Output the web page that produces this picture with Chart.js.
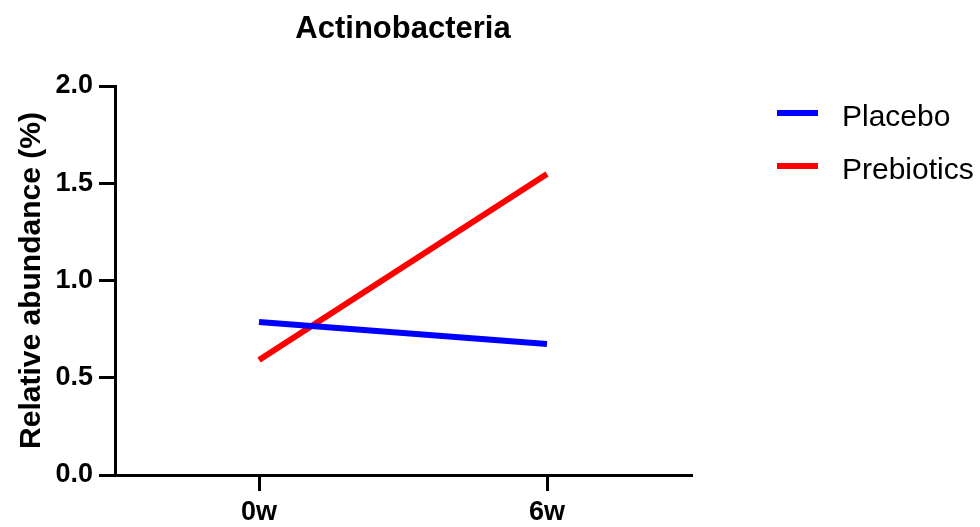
<!DOCTYPE html>
<html>
<head>
<meta charset="utf-8">
<script src="https://cdn.jsdelivr.net/npm/chart.js@4/dist/chart.umd.min.js"></script>
<style>
  html, body { margin: 0; padding: 0; background: #fff; }
  canvas { display: block; }
</style>
</head>
<body>
<canvas id="myChart" width="980" height="527"></canvas>
<script>
var semanas = ['0w', '6w'];
var placebo = [0.787, 0.674];
var prebioticos = [0.591, 1.548];
var ticks_y = [0, 0.5, 1.0, 1.5, 2.0];
var titulo = 'Actinobacteria';
var titulo_y = 'Relative abundance (%)';

var fonte = "'Liberation Sans', Arial, sans-serif";

// titulo, titulo do eixo y e legenda desenhados a mao
var textos = {
    id: 'textos',
    afterDraw: function (chart) {
        let c = chart.ctx;
        let area = chart.chartArea;
        c.save();
        c.fillStyle = '#000';
        c.textBaseline = 'alphabetic';

        c.font = 'bold 31px ' + fonte;
        c.textAlign = 'center';
        c.fillText(titulo, (area.left + area.right) / 2, 38);

        c.font = 'bold 30px ' + fonte;
        c.save();
        c.translate(40, (area.top + area.bottom) / 2);
        c.rotate(-Math.PI / 2);
        c.fillText(titulo_y, 0, 0);
        c.restore();

        c.font = '30px ' + fonte;
        c.textAlign = 'left';
        chart.data.datasets.forEach(function (ds, i) {
            let y = 113 + i * 53;
            c.strokeStyle = ds.borderColor;
            c.lineWidth = 6;
            c.beginPath();
            c.moveTo(777, y);
            c.lineTo(818, y);
            c.stroke();
            c.fillText(ds.label, 842, y + 13);
        });
        c.restore();
    }
};

var ctx = document.getElementById('myChart').getContext('2d');
var grafico = new Chart(ctx, {
    type: 'line',
    data: {
        labels: semanas,
        datasets: [{
            label: 'Placebo',
            data: placebo,
            borderColor: '#0000FF',
            backgroundColor: '#0000FF',
            borderWidth: 6,
            pointRadius: 0,
            fill: false
        }, {
            label: 'Prebiotics',
            data: prebioticos,
            borderColor: '#FF0000',
            backgroundColor: '#FF0000',
            borderWidth: 6,
            pointRadius: 0,
            fill: false
        }]
    },
    options: {
        responsive: false,
        devicePixelRatio: 1,
        animation: false,
        layout: {
            padding: { left: 0, top: 86, right: 289, bottom: 0 }
        },
        plugins: {
            legend: { display: false },
            title: { display: false },
            tooltip: { enabled: false }
        },
        scales: {
            x: {
                type: 'category',
                offset: true,
                afterFit: function (scale) { scale.height = 52; },
                grid: {
                    offset: false,
                    drawOnChartArea: false,
                    drawTicks: true,
                    tickLength: 16,
                    lineWidth: 3,
                    color: '#000'
                },
                border: { display: true, color: '#000', width: 3 },
                ticks: {
                    color: '#000',
                    padding: 5,
                    maxRotation: 0,
                    font: { family: fonte, size: 27, weight: 'bold' }
                }
            },
            y: {
                min: 0,
                max: 2,
                afterFit: function (scale) { scale.width = 115; },
                afterBuildTicks: function (scale) {
                    scale.ticks = ticks_y.map(function (v) { return { value: v }; });
                },
                grid: {
                    drawOnChartArea: false,
                    drawTicks: true,
                    tickLength: 16,
                    lineWidth: 3,
                    color: '#000'
                },
                border: { display: true, color: '#000', width: 3 },
                ticks: {
                    color: '#000',
                    padding: 6,
                    font: { family: fonte, size: 27, weight: 'bold' },
                    callback: function (v) { return Number(v).toFixed(1); }
                }
            }
        }
    },
    plugins: [textos]
});
</script>
</body>
</html>
